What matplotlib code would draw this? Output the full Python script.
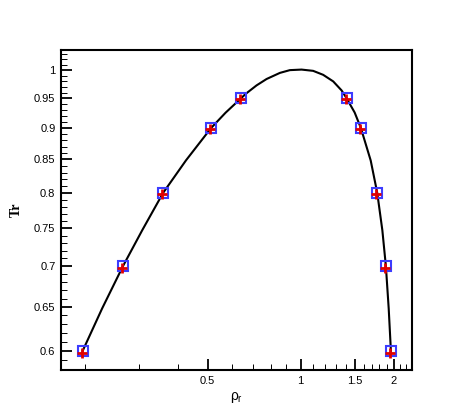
import numpy as np
import matplotlib
matplotlib.use('Agg')
import matplotlib.pyplot as plt
from matplotlib.ticker import FixedLocator, NullFormatter

# coexistence curve (rho_r, Tr)
curve_rho = [0.197, 0.2278, 0.266, 0.3072, 0.359, 0.4257, 0.513, 0.5714, 0.641,
             0.665, 0.720, 0.776, 0.857, 0.923, 1.007, 1.098, 1.183, 1.275,
             1.357, 1.409, 1.496, 1.567, 1.686, 1.770, 1.839, 1.888, 1.928, 1.960]
curve_tr = [0.600, 0.6482, 0.700, 0.7474, 0.800, 0.8487, 0.900, 0.9254, 0.950,
            0.958, 0.9726, 0.984, 0.995, 1.000, 1.001, 0.9987, 0.9915, 0.9797,
            0.9638, 0.950, 0.9258, 0.900, 0.8484, 0.800, 0.7472, 0.700, 0.6482, 0.600]

# reference points (squares)
ref_rho = [0.197, 0.266, 0.359, 0.513, 0.641, 1.409, 1.567, 1.770, 1.888, 1.960]
ref_tr = [0.60, 0.70, 0.80, 0.90, 0.95, 0.95, 0.90, 0.80, 0.70, 0.60]

# simulated points (plus signs)
sim_rho = [0.196, 0.264, 0.357, 0.510, 0.637, 1.400, 1.557, 1.760, 1.876, 1.950]
sim_tr = [0.598, 0.698, 0.798, 0.898, 0.948, 0.948, 0.898, 0.798, 0.698, 0.598]

x_major = [0.5, 1, 1.5, 2]
x_labels = ['0.5', '1', '1.5', '2']
y_major = [0.6, 0.65, 0.7, 0.75, 0.8, 0.85, 0.9, 0.95, 1.0]
y_labels = ['0.6', '0.65', '0.7', '0.75', '0.8', '0.85', '0.9', '0.95', '1']

plt.rcParams['font.family'] = ['Liberation Sans', 'DejaVu Sans']
plt.rcParams['mathtext.fontset'] = 'custom'
plt.rcParams['mathtext.rm'] = 'Liberation Sans'
plt.rcParams['mathtext.it'] = 'Liberation Sans'

fig = plt.figure(figsize=(4.69, 4.17), dpi=100)
ax = fig.add_axes([0.130, 0.1127, 0.748, 0.767])

ax.plot(curve_rho, curve_tr, color='black', lw=1.5, zorder=2,
        solid_joinstyle='round')
ax.plot(ref_rho, ref_tr, ls='none', marker='s', ms=7.5, mfc='none',
        mec='#3c3cff', mew=1.5, zorder=3)
ax.plot(sim_rho, sim_tr, ls='none', marker='+', ms=7, mec='#e00000',
        mew=2, zorder=4)

ax.set_xscale('log')
ax.set_yscale('log')
ax.set_xlim(0.1676, 2.29)
ax.set_ylim(0.5795, 1.037)

ax.xaxis.set_major_locator(FixedLocator(x_major))
ax.set_xticklabels(x_labels)
x_minor = [v for v in np.round(np.arange(0.2, 2.25, 0.1), 2) if v not in x_major]
ax.xaxis.set_minor_locator(FixedLocator(x_minor))
ax.xaxis.set_minor_formatter(NullFormatter())

ax.yaxis.set_major_locator(FixedLocator(y_major))
ax.set_yticklabels(y_labels)
y_minor = [v for v in np.round(np.arange(0.58, 1.035, 0.01), 2)
           if not np.any(np.isclose(v, y_major))]
ax.yaxis.set_minor_locator(FixedLocator(y_minor))
ax.yaxis.set_minor_formatter(NullFormatter())

ax.tick_params(which='major', direction='in', length=8, width=1.3, labelsize=8, pad=4)
ax.tick_params(which='minor', direction='in', length=4, width=0.7)
ax.tick_params(top=False, right=False, which='both')
for s in ax.spines.values():
    s.set_linewidth(1.5)

ax.set_xlabel(r'$\rho_r$', fontsize=10, labelpad=3)
ax.set_ylabel('Tr', fontsize=10, fontweight='bold', family='Liberation Serif', labelpad=8)

fig.savefig('out.png', dpi=100)
